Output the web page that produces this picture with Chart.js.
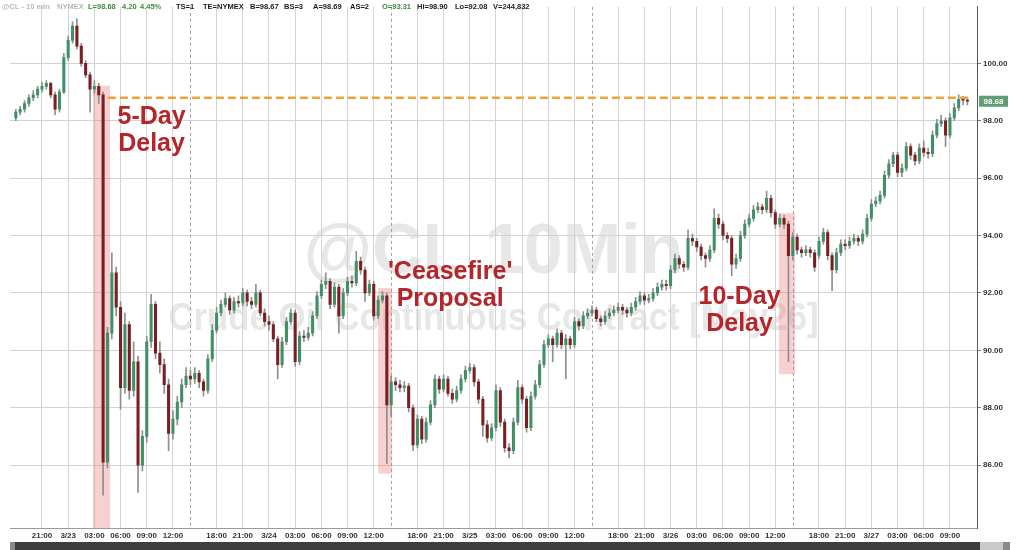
<!DOCTYPE html>
<html>
<head>
<meta charset="utf-8">
<title>@CL 10 min</title>
<script src="https://cdn.jsdelivr.net/npm/chart.js@4.4.1/dist/chart.umd.min.js"></script>
<style>
  html, body { margin: 0; padding: 0; background: #fff; }
  #wrap { width: 1016px; height: 550px; }
</style>
</head>
<body>
<div id="wrap"><canvas id="chart" width="1016" height="550"></canvas></div>
<script>
// 30-minute candles, index 0 = 3/22 18:00
const opens = [
  98.10, 98.30, 98.40, 98.60, 98.80, 98.90, 99.10, 99.20, 99.30, 98.90,
  98.40, 99.00, 100.20, 100.80, 101.30, 100.60, 100.00, 99.60, 99.10, 99.20,
  98.90, 86.10, 90.60, 92.70, 91.50, 88.70, 90.90, 88.60, 89.60, 86.00,
  87.00, 90.30, 91.60, 89.90, 89.50, 88.80, 87.10, 87.60, 88.20, 88.80,
  89.10, 89.00, 89.20, 88.90, 88.60, 89.70, 90.70, 91.30, 91.60, 91.80,
  91.40, 91.70, 91.65, 92.00, 91.70, 91.60, 92.00, 91.30, 91.00, 90.90,
  90.40, 89.50, 90.30, 91.00, 91.30, 89.60, 90.50, 90.45, 90.60, 91.20,
  91.90, 92.30, 92.40, 91.60, 92.20, 91.20, 92.00, 92.40, 92.35, 93.10,
  92.80, 92.00, 92.30, 91.20, 91.75, 91.90, 88.10, 88.90, 88.80, 88.70,
  88.75, 88.00, 86.70, 87.60, 86.90, 87.50, 88.10, 89.00, 88.65, 89.00,
  88.50, 88.30, 88.60, 89.00, 89.30, 89.40, 88.90, 88.30, 87.40, 86.95,
  87.30, 88.60, 87.50, 86.60, 86.50, 87.50, 88.70, 88.30, 87.30, 88.40,
  88.80, 89.50, 90.20, 90.40, 90.20, 90.60, 90.20, 90.40, 90.20, 91.00,
  90.85, 91.20, 91.30, 91.40, 91.10, 91.00, 91.20, 91.30, 91.40, 91.50,
  91.40, 91.30, 91.50, 91.70, 91.90, 91.75, 91.80, 92.00, 92.20, 92.30,
  92.25, 92.80, 93.20, 93.00, 92.90, 93.90, 93.80, 93.60, 93.30, 93.20,
  93.50, 94.60, 94.40, 94.00, 93.90, 93.00, 93.20, 94.00, 94.40, 94.60,
  94.90, 95.00, 94.90, 95.30, 94.80, 94.40, 94.60, 94.40, 93.30, 93.95,
  93.50, 93.40, 93.50, 93.40, 93.31, 93.80, 94.10, 93.30, 92.80, 93.40,
  93.70, 93.65, 93.80, 93.90, 93.80, 94.05, 94.60, 95.10, 95.20, 95.40,
  96.10, 96.50, 96.80, 96.20, 96.35, 97.10, 96.80, 96.60, 97.05, 96.90,
  96.85, 97.50, 97.90, 98.00, 97.50, 98.10, 98.45, 98.75, 98.72
];
const highs = [
  98.40, 98.50, 98.70, 98.90, 99.05, 99.20, 99.35, 99.40, 99.35, 99.00,
  99.10, 100.35, 100.95, 101.45, 101.55, 100.70, 100.10, 99.70, 99.40, 99.30,
  99.00, 90.80, 93.40, 92.90, 91.70, 91.30, 91.00, 90.30, 89.80, 87.20,
  90.50, 91.95, 91.70, 90.30, 89.70, 89.00, 87.90, 88.40, 89.00, 89.40,
  89.30, 89.40, 89.30, 89.00, 89.85, 90.90, 91.50, 91.75, 92.00, 91.90,
  91.85, 91.90, 92.15, 92.10, 91.85, 92.30, 92.10, 91.45, 91.20, 91.00,
  90.50, 90.45, 91.15, 91.45, 91.40, 90.65, 90.70, 90.80, 91.35, 92.05,
  92.45, 92.70, 92.50, 92.35, 92.30, 92.15, 92.55, 92.60, 93.45, 93.25,
  92.90, 92.45, 92.40, 91.90, 92.05, 92.00, 89.10, 89.05, 88.95, 88.90,
  88.85, 88.10, 87.75, 87.70, 87.65, 88.25, 89.15, 89.10, 89.15, 89.10,
  88.65, 88.75, 89.15, 89.45, 89.55, 89.50, 89.00, 88.40, 87.55, 87.45,
  88.80, 88.70, 87.60, 86.75, 87.65, 88.95, 88.80, 88.40, 88.55, 88.95,
  89.65, 90.35, 90.55, 90.50, 90.75, 90.70, 90.55, 90.50, 91.15, 91.10,
  91.35, 91.45, 91.55, 91.50, 91.20, 91.35, 91.45, 91.55, 91.65, 91.60,
  91.50, 91.65, 91.85, 92.05, 92.00, 91.95, 92.15, 92.35, 92.45, 92.45,
  92.95, 93.35, 93.30, 93.10, 94.20, 94.05, 93.90, 93.70, 93.40, 93.65,
  94.93, 94.75, 94.50, 94.10, 94.00, 93.35, 94.15, 94.55, 94.75, 95.05,
  95.15, 95.10, 95.55, 95.40, 94.90, 94.75, 94.70, 94.50, 94.10, 94.05,
  93.60, 93.65, 93.60, 93.50, 93.95, 94.25, 94.20, 93.40, 93.55, 93.85,
  93.85, 93.95, 94.05, 94.00, 94.20, 94.75, 95.25, 95.35, 95.55, 96.25,
  96.65, 96.90, 96.90, 96.50, 97.25, 97.20, 96.90, 97.20, 97.30, 97.05,
  97.65, 98.05, 98.20, 98.10, 98.25, 98.60, 98.90, 98.85, 98.80
];
const lows = [
  98.00, 98.20, 98.30, 98.50, 98.70, 98.80, 99.00, 99.10, 98.80, 98.20,
  98.30, 98.95, 100.10, 100.70, 100.50, 99.90, 99.50, 98.30, 98.95, 98.60,
  84.95, 85.90, 90.40, 91.20, 87.95, 88.50, 88.30, 88.40, 85.05, 85.80,
  86.80, 90.10, 89.70, 89.20, 88.50, 86.50, 86.90, 87.40, 88.00, 88.70,
  88.80, 88.85, 88.70, 88.40, 88.50, 89.60, 90.60, 91.20, 91.50, 91.25,
  91.30, 91.50, 91.55, 91.55, 91.45, 91.50, 91.20, 90.85, 90.70, 90.30,
  89.00, 89.40, 90.20, 90.90, 89.45, 89.50, 90.30, 90.35, 90.50, 91.10,
  91.80, 92.15, 91.45, 91.50, 90.60, 91.10, 91.90, 92.20, 92.25, 92.65,
  91.70, 91.90, 91.05, 91.10, 91.65, 86.05, 87.70, 88.60, 88.55, 88.55,
  87.85, 86.50, 86.60, 86.75, 86.80, 87.40, 88.00, 88.50, 88.55, 88.40,
  88.15, 88.20, 88.50, 88.90, 89.20, 88.75, 88.15, 87.00, 86.80, 86.85,
  87.20, 87.35, 86.45, 86.25, 86.40, 87.40, 88.15, 87.15, 87.20, 88.30,
  88.70, 89.40, 90.10, 89.60, 90.10, 90.05, 89.00, 90.05, 90.10, 90.70,
  90.75, 91.10, 91.20, 91.00, 90.85, 90.90, 91.10, 91.20, 91.30, 91.25,
  91.15, 91.20, 91.40, 91.60, 91.60, 91.65, 91.70, 91.90, 92.10, 92.10,
  92.15, 92.70, 92.85, 92.75, 92.80, 93.65, 93.45, 93.15, 92.90, 93.10,
  93.40, 94.25, 93.85, 93.75, 92.60, 92.85, 93.10, 93.90, 94.30, 94.50,
  94.80, 94.75, 94.80, 94.65, 94.25, 94.30, 94.25, 89.60, 93.15, 93.35,
  93.25, 93.30, 93.25, 92.75, 93.20, 93.70, 93.15, 92.08, 92.70, 93.30,
  93.50, 93.55, 93.70, 93.65, 93.70, 93.95, 94.50, 95.00, 95.10, 95.30,
  96.00, 96.40, 96.05, 96.05, 96.25, 96.65, 96.45, 96.50, 96.75, 96.70,
  96.75, 97.40, 97.80, 97.10, 97.40, 98.00, 98.35, 98.55, 98.55
];
const closes = [
  98.30, 98.40, 98.60, 98.80, 98.90, 99.10, 99.20, 99.30, 98.90, 98.40,
  99.00, 100.20, 100.80, 101.30, 100.60, 100.00, 99.60, 99.10, 99.20, 98.90,
  86.10, 90.60, 92.70, 91.50, 88.70, 90.90, 88.60, 89.60, 86.00, 87.00,
  90.30, 91.60, 89.90, 89.50, 88.80, 87.10, 87.60, 88.20, 88.80, 89.10,
  89.00, 89.20, 88.90, 88.60, 89.70, 90.70, 91.30, 91.60, 91.80, 91.40,
  91.70, 91.65, 92.00, 91.70, 91.60, 92.00, 91.30, 91.00, 90.90, 90.40,
  89.50, 90.30, 91.00, 91.30, 89.60, 90.50, 90.45, 90.60, 91.20, 91.90,
  92.30, 92.40, 91.60, 92.20, 91.20, 92.00, 92.40, 92.35, 93.10, 92.80,
  92.00, 92.30, 91.20, 91.75, 91.90, 88.10, 88.90, 88.80, 88.70, 88.75,
  88.00, 86.70, 87.60, 86.90, 87.50, 88.10, 89.00, 88.65, 89.00, 88.50,
  88.30, 88.60, 89.00, 89.30, 89.40, 88.90, 88.30, 87.40, 86.95, 87.30,
  88.60, 87.50, 86.60, 86.50, 87.50, 88.70, 88.30, 87.30, 88.40, 88.80,
  89.50, 90.20, 90.40, 90.20, 90.60, 90.20, 90.40, 90.20, 91.00, 90.85,
  91.20, 91.30, 91.40, 91.10, 91.00, 91.20, 91.30, 91.40, 91.50, 91.40,
  91.30, 91.50, 91.70, 91.90, 91.75, 91.80, 92.00, 92.20, 92.30, 92.25,
  92.80, 93.20, 93.00, 92.90, 93.90, 93.80, 93.60, 93.30, 93.20, 93.50,
  94.60, 94.40, 94.00, 93.90, 93.00, 93.20, 94.00, 94.40, 94.60, 94.90,
  95.00, 94.90, 95.30, 94.80, 94.40, 94.60, 94.40, 93.30, 93.95, 93.50,
  93.40, 93.50, 93.40, 92.90, 93.80, 94.10, 93.30, 92.80, 93.40, 93.70,
  93.65, 93.80, 93.90, 93.80, 94.05, 94.60, 95.10, 95.20, 95.40, 96.10,
  96.50, 96.80, 96.20, 96.35, 97.10, 96.80, 96.60, 97.05, 96.90, 96.85,
  97.50, 97.90, 98.00, 97.50, 98.10, 98.45, 98.75, 98.72, 98.68
];

// x-axis labels (candle index -> text)
const tickIdx = [6, 12, 18, 24, 30, 36,
  46, 52, 58, 64, 70, 76, 82,
  92, 98, 104, 110, 116, 122, 128,
  138, 144, 150, 156, 162, 168, 174,
  184, 190, 196, 202, 208, 214];
const tickText = ['21:00', '3/23', '03:00', '06:00', '09:00', '12:00',
  '18:00', '21:00', '3/24', '03:00', '06:00', '09:00', '12:00',
  '18:00', '21:00', '3/25', '03:00', '06:00', '09:00', '12:00',
  '18:00', '21:00', '3/26', '03:00', '06:00', '09:00', '12:00',
  '18:00', '21:00', '3/27', '03:00', '06:00', '09:00'];
const priceTicks = [86, 88, 90, 92, 94, 96, 98, 100];
const sessionBreaks = [40, 86, 132, 178];

const lastPrice = 98.68;
const prevLevel = 98.8;

// news markers: shaded span and label
const shades = [
  { from: 17.7, to: 21.6, top: 99.22, bottom: 83.81 },
  { from: 83.0, to: 86.2, top: 92.17, bottom: 85.70 },
  { from: 174.8, to: 178.5, top: 94.78, bottom: 89.17 }
];
const notes = [
  { lines: ['5-Day', 'Delay'], at: 31.1, price: [97.88, 96.95] },
  { lines: ["'Ceasefire'", 'Proposal'], at: 99.5, price: [92.48, 91.55] },
  { lines: ['10-Day', 'Delay'], at: 165.8, price: [91.62, 90.66] }
];

const header = [
  ['@CL - 10 min', 2, '#b8b8b8'], ['NYMEX', 57, '#b8b8b8'],
  ['L=98.68', 88, '#3d8a3d'], ['4.20', 122, '#3d8a3d'], ['4.45%', 140, '#3d8a3d'],
  ['TS=1', 176, '#1a1a1a'], ['TE=NYMEX', 203, '#1a1a1a'], ['B=98.67', 250, '#1a1a1a'],
  ['BS=3', 284, '#1a1a1a'], ['A=98.69', 313, '#1a1a1a'], ['AS=2', 350, '#1a1a1a'],
  ['O=93.31', 382, '#3d8a3d'], ['Hi=98.90', 417, '#1a1a1a'], ['Lo=92.08', 455, '#1a1a1a'],
  ['V=244,832', 493, '#1a1a1a']
];

const UP = '#3f9067';
const DOWN = '#7b1e22';
const FONT = '"Liberation Sans", Arial, sans-serif';

const marks = {
  id: 'marks',
  beforeDraw(chart) {
    const { ctx, chartArea: a } = chart;
    ctx.save();
    ctx.fillStyle = '#fff';
    ctx.fillRect(0, 0, chart.width, chart.height);
    // watermark
    const cx = (a.left + a.right) / 2;
    ctx.textAlign = 'center';
    ctx.fillStyle = '#e7e7e7';
    ctx.font = 'bold 70px ' + FONT;
    ctx.fillText('@CL 10Min', cx, 273);
    ctx.font = 'bold 38px ' + FONT;
    ctx.fillText('Crude Oil Continuous Contract [May26]', cx, 330, 650);
    ctx.restore();
  },
  beforeDatasetsDraw(chart) {
    const { ctx, chartArea: a, scales: { x, y } } = chart;
    ctx.save();
    // session separators
    ctx.strokeStyle = '#a0a0a0';
    ctx.lineWidth = 1;
    ctx.setLineDash([3, 3]);
    sessionBreaks.forEach(i => {
      const px = Math.round(x.getPixelForValue(i)) + 0.5;
      ctx.beginPath();
      ctx.moveTo(px, a.top);
      ctx.lineTo(px, a.bottom);
      ctx.stroke();
    });
    ctx.setLineDash([]);
    // news shading
    ctx.fillStyle = 'rgba(236, 120, 120, 0.35)';
    shades.forEach(s => {
      const x0 = x.getPixelForValue(s.from), x1 = x.getPixelForValue(s.to);
      const y0 = y.getPixelForValue(s.top), y1 = y.getPixelForValue(s.bottom);
      ctx.fillRect(x0, y0, x1 - x0, y1 - y0);
    });
    ctx.restore();
  },
  afterDatasetsDraw(chart) {
    const { ctx, scales: { x, y } } = chart;
    ctx.save();
    // pre-delay level
    ctx.strokeStyle = '#eda43c';
    ctx.lineWidth = 2.5;
    ctx.setLineDash([8, 4]);
    const ly = y.getPixelForValue(prevLevel);
    ctx.beginPath();
    ctx.moveTo(x.getPixelForValue(21.1), ly);
    ctx.lineTo(x.getPixelForValue(218.6), ly);
    ctx.stroke();
    ctx.setLineDash([]);
    // news labels
    ctx.fillStyle = '#b5262b';
    ctx.font = 'bold 25px ' + FONT;
    ctx.textAlign = 'center';
    notes.forEach(n => {
      n.lines.forEach((t, k) => ctx.fillText(t, x.getPixelForValue(n.at), y.getPixelForValue(n.price[k])));
    });
    ctx.restore();
  },
  afterDraw(chart) {
    const { ctx, scales: { y } } = chart;
    ctx.save();
    // header line
    ctx.textBaseline = 'middle';
    ctx.font = 'bold 7.5px ' + FONT;
    header.forEach(([t, hx, c]) => {
      ctx.fillStyle = c;
      ctx.fillText(t, hx, 7);
    });
    // last price tag
    const py = y.getPixelForValue(lastPrice);
    ctx.font = 'bold 8px ' + FONT;
    ctx.fillStyle = '#5e9e72';
    ctx.fillRect(979, py - 5.5, 29, 11);
    ctx.fillStyle = '#fff';
    ctx.textAlign = 'center';
    ctx.fillText(lastPrice.toFixed(2), 993.5, py + 0.5);
    // scroll bar
    ctx.fillStyle = '#3e3e3e';
    ctx.fillRect(10, 542, 970, 8);
    ctx.fillStyle = '#8a8a8a';
    ctx.fillRect(10, 542, 5, 8);
    ctx.fillStyle = '#c9c9c9';
    ctx.fillRect(980, 542, 23, 8);
    ctx.fillStyle = '#8a8a8a';
    ctx.fillRect(1003, 542, 7, 8);
    ctx.restore();
  }
};

new Chart(document.getElementById('chart'), {
  type: 'bar',
  data: {
    datasets: [
      {
        label: 'body',
        data: closes.map((c, i) => ({ x: i, y: [opens[i], c] })),
        backgroundColor: ctx => closes[ctx.dataIndex] >= opens[ctx.dataIndex] ? UP : DOWN,
        barThickness: 2.4,
        minBarLength: 1,
        order: 0
      },
      {
        label: 'wick',
        data: highs.map((h, i) => ({ x: i, y: [lows[i], h] })),
        backgroundColor: '#8f8f8f',
        barThickness: 1,
        order: 1
      }
    ]
  },
  options: {
    responsive: false,
    animation: false,
    devicePixelRatio: 1,
    events: [],
    layout: { padding: { left: 10, top: 0, right: 0, bottom: 0 } },
    datasets: { bar: { grouped: false } },
    plugins: { legend: { display: false }, tooltip: { enabled: false } },
    scales: {
      x: {
        type: 'linear',
        min: -1.33,
        max: 220.2,
        offset: false,
        afterBuildTicks: s => { s.ticks = tickIdx.map(v => ({ value: v })); },
        afterFit: s => { s.height = 22; },
        ticks: {
          autoSkip: false,
          maxRotation: 0,
          padding: 3,
          color: '#333',
          font: { family: FONT, size: 8, weight: 'bold' },
          callback: (v, i) => tickText[i]
        },
        grid: { color: '#d3d3d3', drawTicks: false, offset: false },
        border: { color: '#9a9a9a' }
      },
      y: {
        position: 'right',
        min: 83.808,
        max: 101.971,
        afterBuildTicks: s => { s.ticks = priceTicks.map(v => ({ value: v })); },
        afterFit: s => { s.width = 39; },
        ticks: {
          padding: 2,
          color: '#333',
          font: { family: FONT, size: 8, weight: 'bold' },
          callback: v => v.toFixed(2)
        },
        grid: { color: '#d3d3d3', tickLength: 4, tickColor: '#777' },
        border: { color: '#555' }
      }
    }
  },
  plugins: [marks]
});
</script>
</body>
</html>
